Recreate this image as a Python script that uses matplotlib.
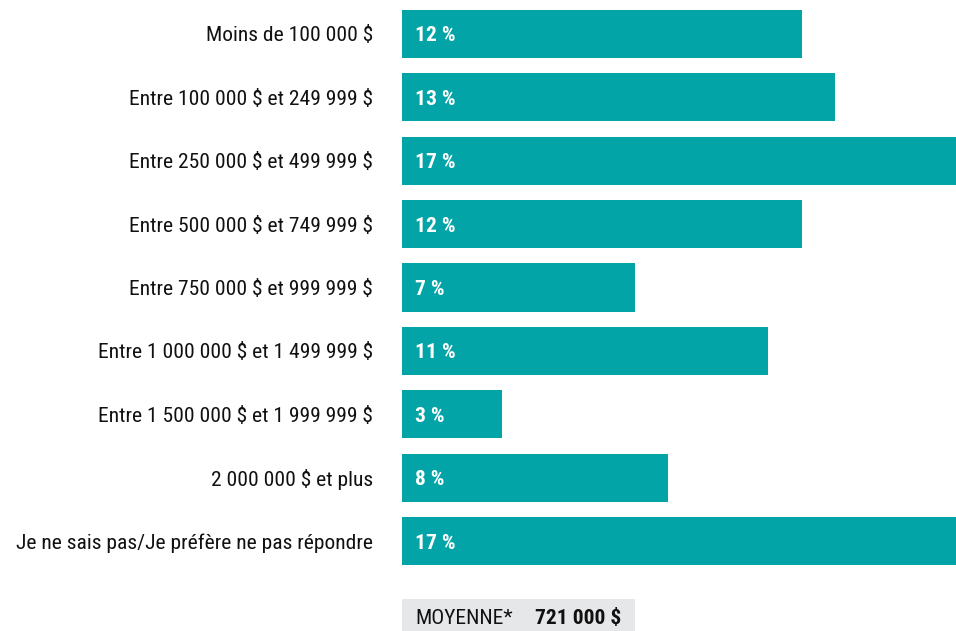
import matplotlib
matplotlib.use("Agg")
import matplotlib.pyplot as plt

plt.rcParams["text.parse_math"] = False
FAM = ["Roboto Condensed", "Liberation Sans Narrow", "Roboto", "DejaVu Sans"]

categories = [
    "Moins de 100 000 $",
    "Entre 100 000 $ et 249 999 $",
    "Entre 250 000 $ et 499 999 $",
    "Entre 500 000 $ et 749 999 $",
    "Entre 750 000 $ et 999 999 $",
    "Entre 1 000 000 $ et 1 499 999 $",
    "Entre 1 500 000 $ et 1 999 999 $",
    "2 000 000 $ et plus",
    "Je ne sais pas/Je préfère ne pas répondre",
]
values = [12, 13, 17, 12, 7, 11, 3, 8, 17]
value_labels = ["12 %", "13 %", "17 %", "12 %", "7 %", "11 %", "3 %", "8 %", "17 %"]
avg_label = "MOYENNE*"
avg_value = "721 000 $"

W, H = 956, 631
fig = plt.figure(figsize=(W / 100, H / 100), dpi=100)
ax = fig.add_axes([402 / W, 1 - 572.7 / H, (W - 402) / W, (572.7 - 2.3) / H])
color = "#02a4a8"
y = list(range(len(values)))
ax.barh(y, values, height=0.76, color=color, left=0)
ax.set_ylim(len(values) - 0.5, -0.5)
ax.set_xlim(0, (W - 402) / 33.3)
ax.axis("off")

renderer = fig.canvas.get_renderer()
probe = fig.text(0, 0, categories[-1], fontsize=16, family=FAM)
wpx = probe.get_window_extent(renderer).width
probe.remove()
fs = min(17.0, 16.0 * 359 / wpx)

for i, (cat, lab) in enumerate(zip(categories, value_labels)):
    ax.annotate(cat, xy=(0, i), xycoords="data", xytext=(-29, -2), textcoords="offset pixels",
                ha="right", va="center", fontsize=fs, family=FAM, color="#111111")
    ax.annotate(lab, xy=(0, i), xycoords="data", xytext=(13, -2), textcoords="offset pixels",
                ha="left", va="center", fontsize=fs, family=FAM, color="white", fontweight="bold")

# average box
fig.patches.append(plt.Rectangle((402 / W, 0), (635 - 402) / W, 32 / H, transform=fig.transFigure,
                                 facecolor="#e6e7e8", edgecolor="none"))
fig.text(415 / W, 13 / H, avg_label, ha="left", va="center", fontsize=fs, family=FAM, color="#111111")
fig.text(621 / W, 13 / H, avg_value, ha="right", va="center", fontsize=fs, family=FAM,
         color="#111111", fontweight="bold")

fig.savefig("out.png", dpi=100)
